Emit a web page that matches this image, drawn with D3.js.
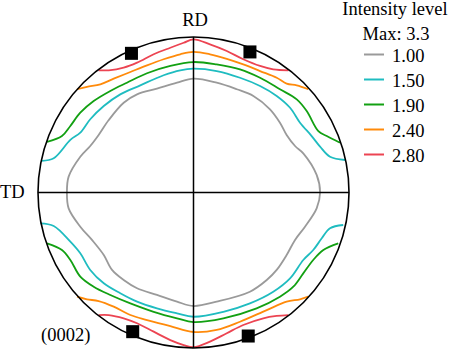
<!DOCTYPE html>
<html>
<head>
<meta charset="utf-8">
<script src="https://cdn.jsdelivr.net/npm/d3@7"></script>
<style>
  html, body { margin: 0; padding: 0; background: #fff; }
  text { font-family: "Liberation Serif", "Times New Roman", serif; font-size: 18.5px; fill: #000; }
</style>
</head>
<body>
<div id="chart"></div>
<script>
// pole figure units: radius of the projection = 100, x to the right, y up (RD)
var levels = ["1.00", "1.50", "1.90", "2.40", "2.80"];
var levelColours = ["#9a9a9a", "#1fbcc0", "#12a012", "#ff8a0a", "#ec4452"];
var maxLabel = "Max: 3.3";

// level 1.00 : one closed loop
var level100 = [
  [0, 73.2], [14.9, 70.6], [27.8, 66.4], [38.5, 62.1], [49.2, 53.5], [55.6, 44.9], [59.9, 37.0],
  [65.3, 29.9], [70.6, 25.2], [79.2, 11.3], [81.4, 0], [79.2, -10.2], [71.7, -22.0], [65.3, -30.5],
  [59.9, -40.2], [53.5, -49.8], [47.1, -56.3], [36.3, -63.8], [14.9, -70.2], [0, -73.0],
  [-10.6, -70.2], [-23.5, -65.9], [-36.3, -61.6], [-44.9, -56.3], [-52.4, -49.8], [-57.7, -40.2],
  [-65.3, -30.5], [-72.8, -22.0], [-80.3, -10.2], [-81.4, 0], [-80.3, 10.2], [-72.8, 23.0],
  [-66.4, 29.9], [-61.0, 37.0], [-54.5, 46.6], [-44.9, 57.7], [-36.3, 63.1], [-23.5, 66.8], [-10.6, 70.6]
];

// levels 1.50 .. 2.80 : one arc near RD top, one near RD bottom
var level150Top = [
  [-97.4, 20.4], [-89.9, 22.0], [-79.2, 33.8], [-72.8, 38.5], [-66.4, 47.1], [-57.7, 55.6],
  [-47.1, 63.1], [-34.2, 68.9], [-19.2, 75.4], [-8.5, 78.6], [0, 79.6], [14.9, 78.1], [29.9, 73.8],
  [42.8, 68.5], [53.5, 62.1], [62.1, 54.5], [68.5, 44.9], [76.0, 36.3], [81.4, 29.5], [87.8, 23.0], [97.4, 20.9]
];
var level150Bottom = [
  [-98.5, -19.8], [-89.9, -21.5], [-79.2, -31.6], [-72.8, -39.1], [-66.4, -49.8], [-57.7, -58.4],
  [-47.1, -64.8], [-36.3, -70.2], [-23.5, -74.5], [-10.6, -77.7], [0, -79.9], [19.2, -76.7],
  [36.3, -71.3], [51.3, -63.8], [62.1, -55.2], [70.6, -43.4], [77.0, -37.0], [82.6, -29.3],
  [87.8, -23.0], [96.3, -20.9]
];
var level190Top = [
  [-94.2, 32.5], [-84.6, 36.3], [-79.2, 42.8], [-72.8, 51.3], [-64.2, 58.8], [-53.5, 65.3],
  [-42.8, 70.6], [-29.9, 76.7], [-14.9, 81.4], [0, 83.9], [14.9, 82.4], [29.9, 79.2], [42.8, 73.8],
  [55.6, 66.4], [66.4, 59.9], [72.8, 52.4], [80.3, 39.5], [85.7, 36.3], [94.2, 32.0]
];
var level190Bottom = [
  [-94.2, -32.7], [-84.6, -37.0], [-79.2, -43.4], [-72.8, -54.1], [-64.2, -60.6], [-53.5, -65.9],
  [-40.6, -71.3], [-25.6, -76.7], [-10.6, -80.9], [0, -83.3], [19.2, -80.9], [40.6, -74.5],
  [55.6, -67.0], [64.2, -60.6], [70.6, -52.0], [77.0, -43.4], [83.5, -37.0], [93.1, -32.7]
];
var level240Top = [
  [-74.9, 66.4], [-68.5, 68.0], [-59.9, 69.6], [-51.3, 73.2], [-40.6, 77.5], [-29.9, 81.8],
  [-19.2, 85.7], [-8.5, 88.9], [0, 90.4], [10.6, 88.9], [21.4, 86.0], [32.0, 82.4], [42.8, 78.1],
  [53.5, 73.8], [59.9, 70.0], [66.4, 68.9], [73.8, 66.4]
];
var level240Bottom = [
  [-74.9, -67.0], [-68.5, -68.7], [-61.0, -69.8], [-51.3, -73.4], [-40.6, -78.8], [-29.9, -82.0],
  [-14.9, -85.9], [0, -89.7], [14.9, -88.4], [29.9, -83.1], [47.1, -75.6], [59.9, -70.2],
  [68.5, -68.7], [73.8, -67.0]
];
var level280Top = [
  [-61.0, 78.6], [-54.5, 78.6], [-44.9, 80.3], [-36.3, 83.5], [-25.6, 88.9], [-14.9, 93.1],
  [-6.3, 96.3], [0, 98.5], [10.6, 95.3], [21.4, 91.0], [32.0, 85.7], [42.8, 81.4], [51.3, 79.2], [61.0, 78.6]
];
var level280Bottom = [
  [-61.0, -78.8], [-54.5, -78.8], [-44.9, -80.9], [-36.3, -84.1], [-25.6, -89.5], [-14.9, -94.9],
  [-6.3, -98.1], [0, -99.5], [10.6, -95.9], [21.4, -90.5], [32.0, -85.2], [44.9, -80.9],
  [53.5, -79.4], [61.0, -78.8]
];

// ideal (0002) pole positions marked with squares
var poles = [[-39.9, 89.5], [36.3, 90.4], [-39.1, -89.5], [35.2, -92.3]];

var contours = [
  { level: 0, closed: true, pts: level100 },
  { level: 1, pts: level150Top }, { level: 1, pts: level150Bottom },
  { level: 2, pts: level190Top }, { level: 2, pts: level190Bottom },
  { level: 3, pts: level240Top }, { level: 3, pts: level240Bottom },
  { level: 4, pts: level280Top }, { level: 4, pts: level280Bottom }
];

var width = 450, height = 352;
var cx = 193.5, cy = 192.5, R = 155.5;

var svg = d3.select("#chart").append("svg")
    .attr("width", width)
    .attr("height", height);

var x = d3.scaleLinear().domain([-100, 100]).range([cx - R, cx + R]);
var y = d3.scaleLinear().domain([-100, 100]).range([cy + R, cy - R]);

var line = d3.line().x(d => x(d[0])).y(d => y(d[1])).curve(d3.curveCatmullRom.alpha(0.5));
var loop = d3.line().x(d => x(d[0])).y(d => y(d[1])).curve(d3.curveCatmullRomClosed.alpha(0.5));

// contours
svg.append("g").selectAll("path")
    .data(contours)
    .enter().append("path")
    .attr("d", d => d.closed ? loop(d.pts) : line(d.pts))
    .attr("fill", "none")
    .attr("stroke", d => levelColours[d.level])
    .attr("stroke-width", 1.8)
    .attr("stroke-linejoin", "round");

// axes RD / TD
svg.append("line")
    .attr("x1", x(0)).attr("x2", x(0))
    .attr("y1", y(100)).attr("y2", y(-100))
    .attr("stroke", "#000").attr("stroke-width", 1.5);
svg.append("line")
    .attr("x1", x(-100)).attr("x2", x(100))
    .attr("y1", y(0)).attr("y2", y(0))
    .attr("stroke", "#000").attr("stroke-width", 1.5);

// outer circle
svg.append("circle")
    .attr("cx", x(0)).attr("cy", y(0))
    .attr("r", x(100) - x(0))
    .attr("fill", "none")
    .attr("stroke", "#000")
    .attr("stroke-width", 1.6);

// squares
var sq = 13;
svg.append("g").selectAll("rect")
    .data(poles)
    .enter().append("rect")
    .attr("x", d => x(d[0]) - sq / 2)
    .attr("y", d => y(d[1]) - sq / 2)
    .attr("width", sq).attr("height", sq)
    .attr("fill", "#000");

// labels
svg.append("text").attr("x", x(0) + 1.5).attr("y", 26).attr("text-anchor", "middle").text("RD");
svg.append("text").attr("x", 0).attr("y", 198).text("TD");
svg.append("text").attr("x", 41).attr("y", 341).text("(0002)");

// legend
var legend = svg.append("g");
legend.append("text").attr("x", 395).attr("y", 15).attr("text-anchor", "middle").text("Intensity level");
legend.append("text").attr("x", 396).attr("y", 39.5).attr("text-anchor", "middle").text(maxLabel);

var rows = legend.selectAll("g.row")
    .data(levels)
    .enter().append("g")
    .attr("class", "row")
    .attr("transform", (d, i) => "translate(0," + (54.5 + i * 25) + ")");

rows.append("line")
    .attr("x1", 364).attr("x2", 384)
    .attr("y1", 0).attr("y2", 0)
    .attr("stroke", (d, i) => levelColours[i])
    .attr("stroke-width", 2);

rows.append("text")
    .attr("x", 392).attr("y", 7)
    .text(d => d);
</script>
</body>
</html>
